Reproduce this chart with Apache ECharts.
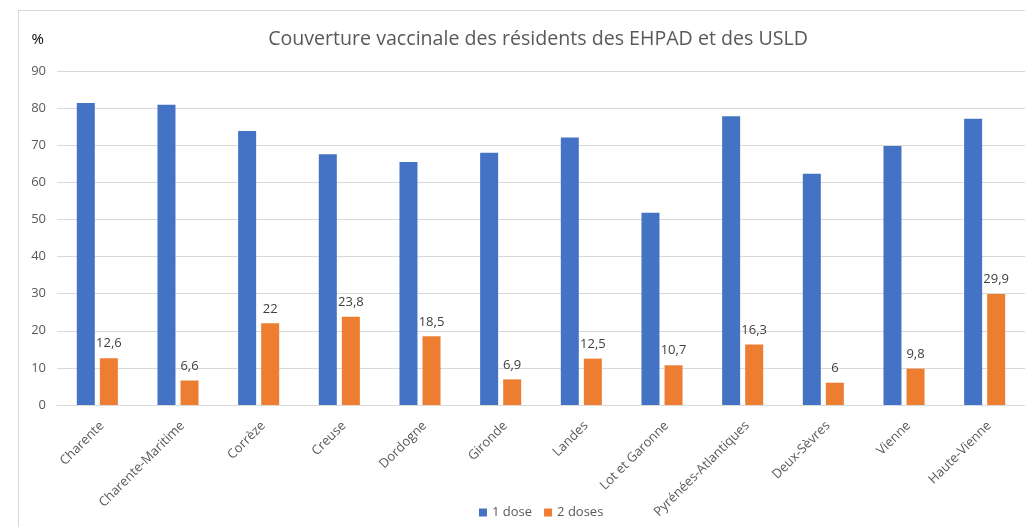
<!DOCTYPE html>
<html>
<head>
<meta charset="utf-8">
<script src="https://cdn.jsdelivr.net/npm/echarts@6/dist/echarts.min.js"></script>
<style>
  html, body { margin: 0; padding: 0; background: #fff; }
  #frame {
    position: absolute; left: 18px; top: 10px; right: 0; bottom: 0;
    border-left: 1px solid #d9d9d9; border-top: 1px solid #d9d9d9;
  }
  #chart { position: absolute; left: 0; top: 0; width: 1025px; height: 527px; }
</style>
</head>
<body>
<div id="frame"></div>
<div id="chart"></div>
<script>
const departements = ['Charente', 'Charente-Maritime', 'Corrèze', 'Creuse', 'Dordogne', 'Gironde',
  'Landes', 'Lot et Garonne', 'Pyrénées-Atlantiques', 'Deux-Sèvres', 'Vienne', 'Haute-Vienne'];
const uneDose = [81.4, 80.9, 73.8, 67.6, 65.5, 68, 72.1, 51.8, 77.8, 62.3, 69.8, 77.1];
const deuxDoses = [12.6, 6.6, 22, 23.8, 18.5, 6.9, 12.5, 10.7, 16.3, 6, 9.8, 29.9];

const myChart = echarts.init(document.getElementById('chart'));
const font = 'Open Sans, sans-serif';

const option = {
  animation: false,
  title: {
    text: 'Couverture vaccinale des résidents des EHPAD et des USLD',
    left: 533,
    textAlign: 'center',
    top: 24,
    textStyle: { fontFamily: font, fontSize: 19.6, fontWeight: 'normal', color: '#595959' }
  },
  legend: {
    bottom: 3,
    left: 474,
    itemWidth: 8,
    itemHeight: 8,
    itemGap: 12,
    icon: 'rect',
    textStyle: { fontFamily: font, fontSize: 13, color: '#595959' },
    data: ['1 dose', '2 doses']
  },
  grid: { left: 57, right: -8, top: 71, bottom: 122 },
  xAxis: {
    type: 'category',
    data: departements,
    axisTick: { show: false },
    axisLine: { lineStyle: { color: '#d9d9d9' } },
    axisLabel: {
      rotate: 45, interval: 0, margin: 14, verticalAlign: 'top',
      fontFamily: font, fontSize: 13, color: '#595959'
    }
  },
  yAxis: {
    type: 'value',
    min: 0, max: 90, interval: 10,
    name: '%',
    nameLocation: 'end',
    nameGap: 24,
    nameTextStyle: { fontFamily: font, fontSize: 15, color: '#000', align: 'right', padding: [0, 13, 0, 0] },
    axisLabel: { fontFamily: font, fontSize: 13, color: '#595959', margin: 11 },
    splitLine: { lineStyle: { color: '#d9d9d9' } }
  },
  series: [
    {
      name: '1 dose',
      type: 'bar',
      data: uneDose,
      barWidth: 18,
      barGap: '28%',
      itemStyle: { color: '#4472C4' }
    },
    {
      name: '2 doses',
      type: 'bar',
      data: deuxDoses,
      barWidth: 18,
      itemStyle: { color: '#ED7D31' },
      label: {
        show: true,
        position: 'top',
        distance: 8,
        fontFamily: font,
        fontSize: 13,
        color: '#404040',
        formatter: p => String(p.value).replace('.', ',')
      }
    }
  ]
};

myChart.setOption(option);
</script>
</body>
</html>
